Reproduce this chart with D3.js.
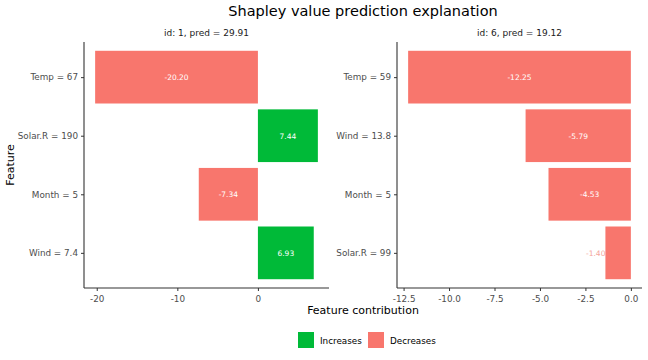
<!DOCTYPE html>
<html><head><meta charset="utf-8">
<script src="https://cdn.jsdelivr.net/npm/d3@7"></script>
<style>body{margin:0;background:#fff;} text{font-family:"DejaVu Sans",sans-serif;}</style>
</head><body><svg id="c" width="648" height="360"></svg>
<script>
const features1 = ["Temp = 67", "Solar.R = 190", "Month = 5", "Wind = 7.4"];
const values1 = [-20.20, 7.44, -7.34, 6.93];
const features2 = ["Temp = 59", "Wind = 13.8", "Month = 5", "Solar.R = 99"];
const values2 = [-12.25, -5.79, -4.53, -1.40];
const panelTitles = ["id: 1, pred = 29.91", "id: 6, pred = 19.12"];
const ticks1 = [-20, -10, 0];
const ticks2 = [-12.5, -10.0, -7.5, -5.0, -2.5, 0.0];
const legendLabels = ["Increases", "Decreases"];
const colors = {Increases: "#00BA38", Decreases: "#F8766D"};

const svg = d3.select("#c");
svg.append("text").attr("x", 363).attr("y", 16).attr("text-anchor", "middle")
  .attr("font-size", 14.5).attr("fill", "#000").text("Shapley value prediction explanation");

const plotTop = 42, plotBottom = 288;
function panel(x0, x1, feats, vals, ticks, title, digits) {
  const lo = Math.min(0, d3.min(vals)), hi = Math.max(0, d3.max(vals));
  const pad = (hi - lo) * 0.05;
  const x = d3.scaleLinear().domain([lo - pad, hi + pad]).range([x0, x1]);
  const n = feats.length;
  const y = d3.scaleLinear().domain([0.4, n + 0.6]).range([plotTop, plotBottom]);
  const yc = i => y(i + 1);
  const unit = y(2) - y(1);
  const g = svg.append("g");
  g.append("text").attr("x", (x0 + x1) / 2).attr("y", 36).attr("text-anchor", "middle")
    .attr("font-size", 9).attr("fill", "#1a1a1a").text(title);
  feats.forEach((f, i) => {
    const v = vals[i];
    const col = v >= 0 ? colors.Increases : colors.Decreases;
    const xa = x(Math.min(0, v)), xb = x(Math.max(0, v));
    g.append("rect").attr("x", xa).attr("y", yc(i) - unit * 0.45)
      .attr("width", xb - xa).attr("height", unit * 0.9).attr("fill", col);
    const w = xb - xa;
    if (w > 35) {
      g.append("text").attr("x", x(v / 2)).attr("y", yc(i) + 3).attr("text-anchor", "middle")
        .attr("font-size", 7.5).attr("fill", "#fff").text(v.toFixed(2));
    } else {
      g.append("text").attr("x", xa).attr("y", yc(i) + 3).attr("text-anchor", "end")
        .attr("font-size", 7.5).attr("fill", "#f4a49c").text(v.toFixed(2));
    }
  });
  const xAxis = d3.axisBottom(x).tickValues(ticks).tickSize(3).tickFormat(d => d.toFixed(digits));
  const ax = g.append("g").attr("transform", `translate(0,${plotBottom})`).call(xAxis);
  ax.select(".domain").attr("stroke", "#333").attr("stroke-width", 1.1).attr("d", `M${x0},0H${x1}`);
  ax.selectAll(".tick line").attr("stroke", "#333");
  ax.selectAll(".tick text").attr("font-size", 8.8).attr("fill", "#4d4d4d").attr("dy", "0.9em")
    .attr("font-family", "DejaVu Sans");
  const yl = d3.scaleOrdinal().domain(feats).range(feats.map((_, i) => yc(i)));
  const yAxis = d3.axisLeft(yl).tickSize(3);
  const ay = g.append("g").attr("transform", `translate(${x0},0)`).call(yAxis);
  ay.select(".domain").attr("stroke", "#333").attr("stroke-width", 1.1).attr("d", `M0,${plotTop}V${plotBottom}`);
  ay.selectAll(".tick line").attr("stroke", "#333");
  ay.selectAll(".tick text").attr("font-size", 8.8).attr("fill", "#4d4d4d").attr("font-family", "DejaVu Sans");
}
panel(84, 329, features1, values1, ticks1, panelTitles[0], 0);
panel(397, 642, features2, values2, ticks2, panelTitles[1], 1);

svg.append("text").attr("x", 363).attr("y", 314).attr("text-anchor", "middle")
  .attr("font-size", 11).attr("fill", "#000").text("Feature contribution");
svg.append("text").attr("transform", "translate(14,165) rotate(-90)").attr("text-anchor", "middle")
  .attr("font-size", 11).attr("fill", "#000").text("Feature");

const lg = svg.append("g");
const lx = [298, 368];
legendLabels.forEach((l, i) => {
  lg.append("rect").attr("x", lx[i]).attr("y", 332).attr("width", 16).attr("height", 16).attr("fill", colors[l]);
  lg.append("text").attr("x", lx[i] + 22).attr("y", 343.5).attr("font-size", 8.8).attr("fill", "#000").text(l);
});
</script></body></html>
